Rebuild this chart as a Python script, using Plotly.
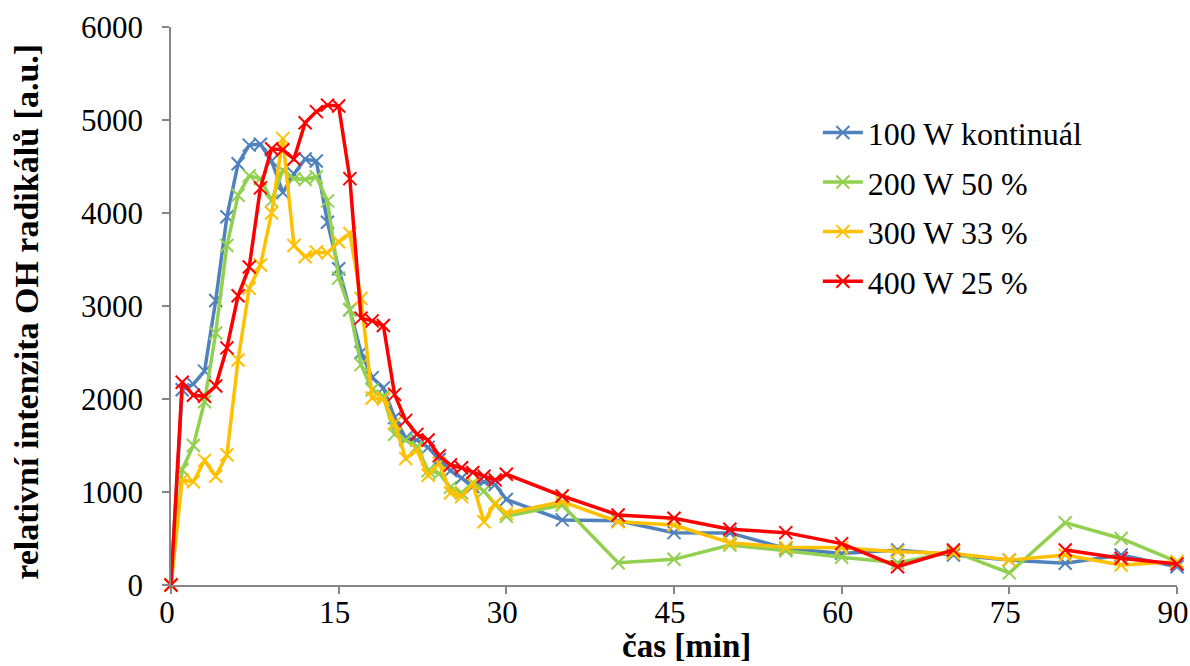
import plotly.graph_objects as go

time_min = [0, 1, 2, 3, 4, 5, 6, 7, 8, 9, 10, 11, 12, 13, 14, 15, 16, 17, 18, 19, 20,
            21, 22, 23, 24, 25, 26, 27, 28, 29, 30, 35, 40, 45, 50, 55, 60, 65, 70, 75, 80, 85, 90]

w100_kontinual = [0, 2100, 2160, 2300, 3060, 3960, 4530, 4730, 4740, 4560, 4220, 4420, 4580, 4560,
                  3900, 3400, 2960, 2500, 2230, 2120, 1800, 1580, 1560, 1480, 1350, 1230, 1150,
                  1060, 1110, 1080, 920, 700, 690, 563, 560, 394, 340, 376, 322, 269, 233, 322, 197]

w200_50 = [0, 1240, 1500, 1970, 2710, 3650, 4190, 4400, 4370, 4130, 4460, 4370, 4360, 4390,
           4130, 3300, 2960, 2370, 2100, 2030, 1620, 1560, 1490, 1230, 1200, 1050, 990,
           1100, 1010, 870, 740, 860, 240, 276, 430, 369, 298, 240, 358, 130, 670, 500, 251]

w300_33 = [0, 1130, 1110, 1340, 1170, 1400, 2420, 3190, 3440, 4000, 4800, 3650, 3530, 3580,
           3570, 3690, 3780, 3080, 2010, 2000, 1740, 1360, 1450, 1180, 1310, 990, 950,
           1090, 680, 880, 770, 896, 681, 645, 455, 405, 400, 358, 340, 269, 322, 215, 251]

w400_25 = [0, 2180, 2040, 2030, 2140, 2550, 3110, 3420, 4270, 4690, 4680, 4580, 4970, 5090,
           5160, 5150, 4370, 2870, 2840, 2790, 2050, 1770, 1620, 1560, 1390, 1290, 1260,
           1210, 1170, 1130, 1190, 957, 753, 717, 599, 563, 445, 197, 376, None, 376, 287, 226]

series_names = ["100 W kontinuál", "200 W 50 %", "300 W 33 %", "400 W 25 %"]
series_values = [w100_kontinual, w200_50, w300_33, w400_25]
series_colors = ["#4F81BD", "#92D050", "#FFC000", "#FF0000"]

x_ticks = [0, 15, 30, 45, 60, 75, 90]
y_ticks = [0, 1000, 2000, 3000, 4000, 5000, 6000]

FONT = "Liberation Serif, Times New Roman, serif"

fig = go.Figure()
for name, vals, col in zip(series_names, series_values, series_colors):
    fig.add_trace(go.Scatter(
        x=time_min, y=vals, name=name, mode="lines+markers",
        line=dict(color=col, width=3.5),
        marker=dict(symbol="x-thin-open", size=13, color=col, line=dict(color=col, width=2)),
        connectgaps=False, legendgroup=name,
        cliponaxis=False,
    ))

axis_gray = "#868686"
fig.update_layout(
    width=1190, height=666,
    margin=dict(l=171, r=13, t=27, b=81, autoexpand=False),
    plot_bgcolor="white", paper_bgcolor="white",
    font=dict(family=FONT, size=31, color="black"),
    showlegend=True,
    legend=dict(
        x=0.643, y=0.86, xanchor="left", yanchor="top",
        font=dict(family=FONT, size=32, color="black"),
        bgcolor="rgba(0,0,0,0)", tracegroupgap=5,
        itemwidth=40,
    ),
    xaxis=dict(
        range=[0, 90], tickvals=x_ticks, ticktext=[str(v) for v in x_ticks],
        showgrid=False, zeroline=False, showline=True, linecolor=axis_gray, linewidth=1.5,
        ticks="outside", ticklen=7, tickcolor=axis_gray, tickwidth=1.5,
        tickfont=dict(family=FONT, size=31, color="black"),
        ticklabeloverflow="allow", ticklabelstandoff=-8, ticklabelshift=-4,
    ),
    yaxis=dict(
        range=[0, 6000], tickvals=y_ticks, ticktext=[str(v) for v in y_ticks],
        showgrid=False, zeroline=False, showline=True, linecolor=axis_gray, linewidth=1.5,
        ticks="outside", ticklen=7, tickcolor=axis_gray, tickwidth=1.5,
        tickfont=dict(family=FONT, size=31, color="black"),
        ticklabelstandoff=13,
    ),
    annotations=[
        dict(text="<b>čas [min]</b>", xref="paper", yref="paper", x=0.512, y=-0.11,
             xanchor="center", yanchor="middle", showarrow=False,
             font=dict(family=FONT, size=33, color="black")),
        dict(text="<b>relativní intenzita OH radikálů [a.u.]</b>", xref="paper", yref="paper",
             x=-0.144, y=0.49, xanchor="center", yanchor="middle", textangle=-90,
             showarrow=False, font=dict(family=FONT, size=34, color="black")),
    ],
)

fig.write_html(
    "out.html",
    config={"displayModeBar": False},
    post_script="document.body.style.margin='0';document.body.style.overflow='hidden';",
)
